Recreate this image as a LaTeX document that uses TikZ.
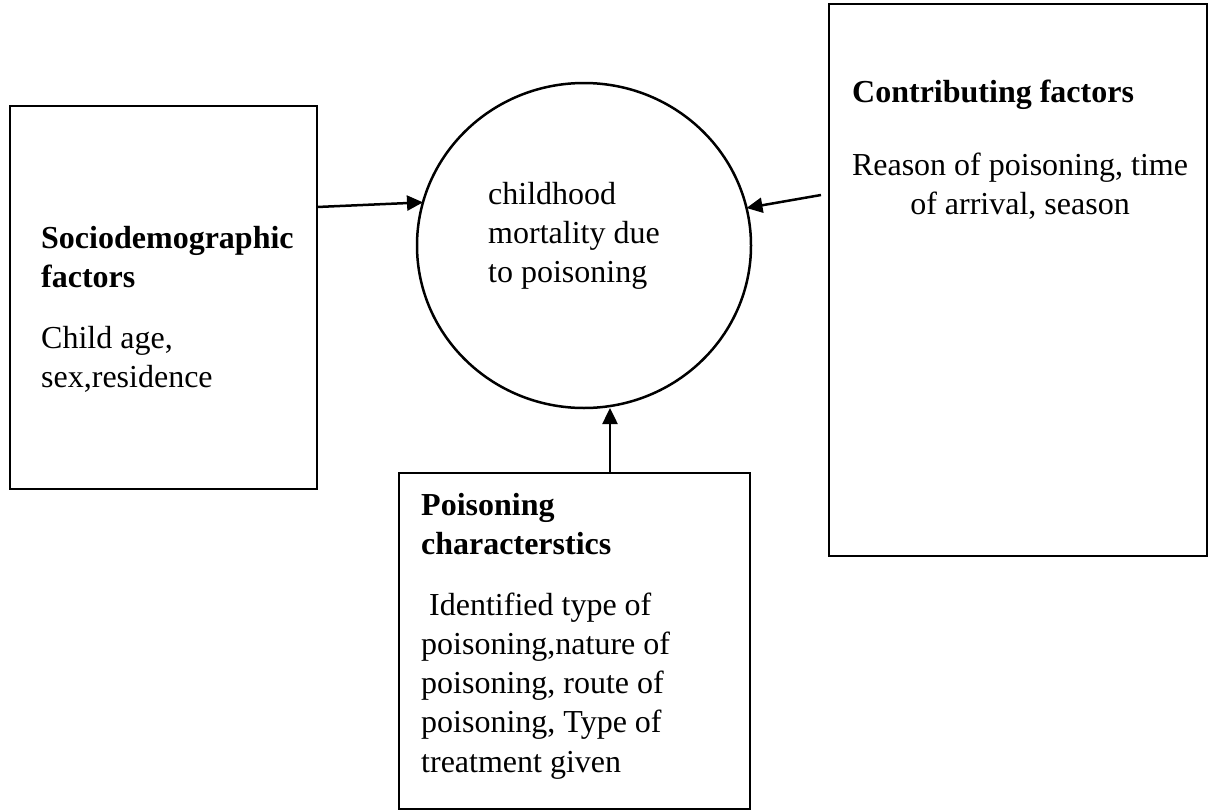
\documentclass[tikz,border=0pt]{standalone}
\usepackage{fontspec}
\setmainfont{Liberation Serif}
\usetikzlibrary{arrows.meta,shapes.geometric}
\begin{document}
\begin{tikzpicture}[x=1pt,y=-1pt,
  box/.style={draw,line width=2.5pt,inner sep=0pt,outer sep=0pt,anchor=north west},
  txt/.style={anchor=base west,inner sep=0pt,font=\fontsize{32}{39}\selectfont},
  ctxt/.style={anchor=base,inner sep=0pt,font=\fontsize{32}{39}\selectfont},
  hd/.style={anchor=base west,inner sep=0pt,font=\fontsize{32}{39}\selectfont\bfseries},
  arr/.style={line width=2.5pt,-{Triangle[length=16pt,width=15pt]}}]
\useasboundingbox (0,0) rectangle (1210,811);
% boxes
\node[box,minimum width=307pt,minimum height=383pt] (lbox) at (10,106) {};
\node[box,minimum width=378pt,minimum height=552pt] (rbox) at (829,4) {};
\node[box,minimum width=351pt,minimum height=336pt] (bbox) at (399,473) {};
\node[draw,line width=2.5pt,ellipse,inner sep=0pt,outer sep=0pt,minimum width=334pt,minimum height=325pt] (circ) at (584,245.5) {};
% left box text
\node[hd] (l1) at (41,248) {Sociodemographic};
\node[hd] (l2) at (41,287) {factors};
\node[txt] (l3) at (41,348) {Child age,};
\node[txt] (l4) at (41,387) {sex,residence};
% circle text
\node[txt] (c1) at (488,204) {childhood};
\node[txt] (c2) at (488,243) {mortality due};
\node[txt] (c3) at (488,282) {to poisoning};
% right box text
\node[hd] (r1) at (852,102) {Contributing factors};
\node[ctxt] (r2) at (1020,175) {Reason of poisoning, time};
\node[ctxt] (r3) at (1020,214) {of arrival, season};
% bottom box text
\node[hd] (b1) at (421,515) {Poisoning};
\node[hd] (b2) at (421,554) {characterstics};
\node[txt] (b3) at (421,615) {\ Identified type of};
\node[txt] (b4) at (421,654) {poisoning,nature of};
\node[txt] (b5) at (421,693) {poisoning, route of};
\node[txt] (b6) at (421,732) {poisoning, Type of};
\node[txt] (b7) at (421,772) {treatment given};
% arrows
\draw[arr] ([yshift=-101pt]lbox.north east) -- (circ.165);
\draw[arr] ([xshift=-8pt,yshift=-191pt]rbox.north west) -- (circ.13);
\draw[arr] ([xshift=35.5pt]bbox.north) -- ([xshift=35.5pt]bbox.north |- circ.south);
\end{tikzpicture}
\end{document}
